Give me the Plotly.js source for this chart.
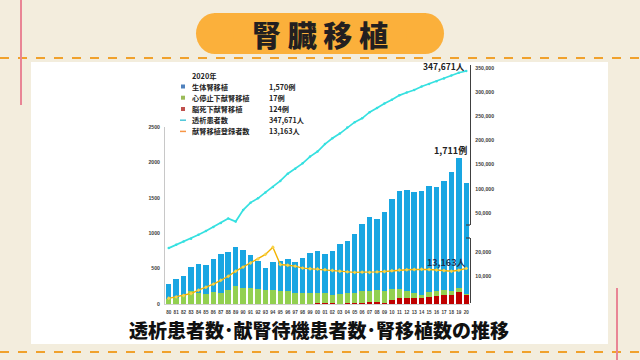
<!DOCTYPE html>
<html><head><meta charset="utf-8">
<script src="https://cdn.plot.ly/plotly-3.0.1.min.js"></script>
<style>html,body{margin:0;padding:0;background:#f3eddd;}#chart{width:640px;height:360px;}</style>
</head><body><div id="chart"></div>
<script>
// ---- data ----
const years = ['80','81','82','83','84','85','86','87','88','89','90','91','92','93','94','95','96','97','98','99',
               '00','01','02','03','04','05','06','07','08','09','10','11','12','13','14','15','16','17','18','19','20'];
// 生体腎移植 (living donor)
const living = [213,267,285,338,410,416,475,551,535,542,533,464,400,315,400,430,453,433,500,570,
                591,551,626,711,734,834,951,1042,998,1120,1276,1389,1420,1431,1471,1494,1471,1544,1683,1827,1570];
// 心停止下献腎移植 (cardiac death donor)
const cardiac = [65,90,110,185,150,135,165,160,195,258,230,228,207,198,193,180,178,160,150,146,
                 143,137,117,137,150,143,166,164,180,172,146,125,105,72,49,66,58,65,55,56,17];
// 脳死下献腎移植 (brain death donor)
const brain = [0,0,0,0,0,0,0,0,0,0,0,0,0,0,0,0,0,0,0,4,
               8,14,10,4,10,17,19,24,23,13,62,87,85,83,78,101,119,133,127,174,124];
// 透析患者数 (dialysis patients)
const dialysis = [36397,42223,47978,53017,59811,66310,73537,80553,88534,83000,103296,116303,123926,134298,143709,154413,167192,175988,185322,197213,
                  206134,219183,229538,237710,248166,257765,264473,275242,282622,290661,297126,304856,310007,314180,320448,324986,329609,334505,339841,344640,347671];
// 献腎移植登録者数 (waiting list registrants)
const waiting = [700,1300,1900,2700,4100,5300,6600,8200,9900,12000,13700,15400,17100,19000,22000,14800,14500,14100,13300,13000,
                 12900,12600,12300,12000,11700,11500,11600,11500,11700,11900,12200,12500,12600,12700,12800,12700,12500,12300,12000,12400,13163];
const leftTicks = [0,500,1000,1500,2000,2500];
const upperTicks = [50000,100000,150000,200000,250000,300000,350000];
const lowerTicks = [10000,20000];
const legendNames = ['生体腎移植','心停止下献腎移植','脳死下献腎移植','透析患者数','献腎移植登録者数'];
const legendValues = ['1,570例','17例','124例','347,671人','13,163人'];

// ---- layout helpers (pixel -> paper) ----
const L=165, R=470, T=65, B=304;
const px=v=>(v-L)/(R-L), py=v=>(B-v)/(B-T);
const fmt=n=>n.toLocaleString('en-US');
const JP='Noto Sans CJK JP';
const NUM='Liberation Sans, Arial';

const traces = [
  {type:'bar', x:years, y:brain, name:'脳死下献腎移植', marker:{color:'#c00000'}, hoverinfo:'skip'},
  {type:'bar', x:years, y:cardiac, name:'心停止下献腎移植', marker:{color:'#92d050'}, hoverinfo:'skip'},
  {type:'bar', x:years, y:living, name:'生体腎移植', marker:{color:'#19a6e2'}, hoverinfo:'skip'},
  {type:'scatter', mode:'lines+markers', x:years, y:dialysis, yaxis:'y3', name:'透析患者数',
   line:{color:'#36e0e0', width:1.7}, marker:{color:'#36e0e0', size:2.5}},
  {type:'scatter', mode:'lines+markers', x:years, y:waiting, yaxis:'y4', name:'献腎移植登録者数',
   line:{color:'#f3b300', width:1.4}, marker:{color:'#f7d24a', size:3, symbol:'diamond'}},
  // empty trace so that the upper right axis is drawn
  {type:'scatter', mode:'markers', x:[], y:[], yaxis:'y2', hoverinfo:'skip'}
];

const shapes = [
  // white panel
  {type:'rect', xref:'paper', yref:'paper', x0:px(31), x1:px(608), y0:py(344), y1:py(62), fillcolor:'#ffffff', line:{width:0}, layer:'below'},
  // dashed orange rules
  {type:'line', xref:'paper', yref:'paper', x0:px(0), x1:px(640), y0:py(58), y1:py(58), line:{color:'#f0a12c', width:2, dash:'dash'}, layer:'below'},
  {type:'line', xref:'paper', yref:'paper', x0:px(0), x1:px(640), y0:py(352), y1:py(352), line:{color:'#f0a12c', width:2, dash:'dash'}, layer:'below'},
  // pink verticals
  {type:'line', xref:'paper', yref:'paper', x0:px(21), x1:px(21), y0:py(0), y1:py(105), line:{color:'#e98595', width:2}, layer:'below'},
  {type:'line', xref:'paper', yref:'paper', x0:px(617), x1:px(617), y0:py(288), y1:py(360), line:{color:'#e98595', width:2}, layer:'below'},
  // title banner
  {type:'rect', xref:'paper', yref:'paper', x0:px(214), x1:px(426), y0:py(54), y1:py(13), fillcolor:'#fbb03b', line:{width:0}, layer:'below'},
  {type:'circle', xref:'paper', yref:'paper', x0:px(196), x1:px(234), y0:py(54), y1:py(13), fillcolor:'#fbb03b', line:{width:0}, layer:'below'},
  {type:'circle', xref:'paper', yref:'paper', x0:px(406), x1:px(444), y0:py(54), y1:py(13), fillcolor:'#fbb03b', line:{width:0}, layer:'below'},
  // axis break marks
  {type:'line', xref:'paper', yref:'paper', x0:px(466), x1:px(470), y0:py(225), y1:py(225), line:{color:'#404040', width:1.2}},
  {type:'line', xref:'paper', yref:'paper', x0:px(466), x1:px(470), y0:py(238), y1:py(238), line:{color:'#404040', width:1.2}}
];
// legend markers
const rowY = [86.5,97.7,109,120.2,131.4];
const mcol = ['#4f81bd','#9bbb59','#c0504d','#4bc6d8','#f79646'];
for(let i=0;i<5;i++){
  if(i<3) shapes.push({type:'rect', xref:'paper', yref:'paper', x0:px(181), x1:px(185), y0:py(rowY[i]+2), y1:py(rowY[i]-2), fillcolor:mcol[i], line:{width:0}});
  else shapes.push({type:'line', xref:'paper', yref:'paper', x0:px(180), x1:px(186), y0:py(rowY[i]), y1:py(rowY[i]), line:{color:mcol[i], width:1.5}});
}

const annotations = [
  {text:'腎 臓 移 植', xref:'paper', yref:'paper', x:px(320), y:py(34), xanchor:'center', yanchor:'middle', showarrow:false,
   font:{family:JP, size:29, color:'#231f20', weight:900}},
  {text:'透析患者数･献腎待機患者数･腎移植数の推移', xref:'paper', yref:'paper', x:px(319), y:py(329), xanchor:'center', yanchor:'middle', showarrow:false,
   font:{family:JP, size:19, color:'#111111', weight:900}},
  {text:'2020年', xref:'paper', yref:'paper', x:px(190), y:py(76), xanchor:'left', yanchor:'middle', showarrow:false,
   font:{family:JP, size:7.3, color:'#222', weight:'bold'}},
  {text:fmt(dialysis[40])+'人', x:40, y:dialysis[40], xref:'x', yref:'y3', xanchor:'right', yanchor:'middle', xshift:1, yshift:5, showarrow:false,
   font:{family:JP, size:8.5, color:'#222', weight:'bold'}},
  {text:fmt(living[40]+cardiac[40]+brain[40])+'例', x:40, y:2175, xref:'x', yref:'y', xanchor:'right', yanchor:'middle', xshift:3, showarrow:false,
   font:{family:JP, size:9, color:'#222', weight:'bold'}},
  {text:fmt(waiting[40])+'人', x:40, y:waiting[40], xref:'x', yref:'y4', xanchor:'right', yanchor:'middle', yshift:6, xshift:1, showarrow:false,
   font:{family:JP, size:9, color:'#1e3250', weight:'bold'}}
];
for(let i=0;i<5;i++){
  annotations.push({text:legendNames[i], xref:'paper', yref:'paper', x:px(190), y:py(rowY[i]), xanchor:'left', yanchor:'middle', showarrow:false,
    font:{family:JP, size:7.2, color:'#222', weight:'bold'}});
  annotations.push({text:legendValues[i], xref:'paper', yref:'paper', x:px(267), y:py(rowY[i]), xanchor:'left', yanchor:'middle', showarrow:false,
    font:{family:JP, size:7.2, color:'#222', weight:'bold'}});
}

const tickFont = {family:NUM, size:5.2, color:'#404040', weight:'bold'};
const xTickFont = {family:NUM, size:4.6, color:'#404040', weight:'bold'};
const layout = {
  width:640, height:360,
  margin:{l:L, r:640-R, t:T, b:360-B, pad:0},
  paper_bgcolor:'#f3eddd', plot_bgcolor:'rgba(0,0,0,0)',
  barmode:'stack', bargap:0.26, showlegend:false,
  font:{family:JP},
  xaxis:{type:'category', tickmode:'array', tickvals:years, ticktext:years, tickangle:0, tickfont:xTickFont,
         showline:true, linecolor:'#d0d0d0', linewidth:1, ticks:'', showgrid:false, zeroline:false, range:[-0.5,40.5], ticklabelstandoff:3},
  yaxis:{domain:[0,py(127)], range:[0,2500], tickvals:leftTicks, ticktext:leftTicks.map(String), tickfont:tickFont,
         showline:true, linecolor:'#c8c8c8', linewidth:1, ticks:'', showgrid:false, zeroline:false, ticklabelstandoff:3},
  yaxis2:{anchor:'x', side:'right', domain:[py(225),1], range:[25171,356207], tickvals:upperTicks, ticktext:upperTicks.map(fmt),
          tickfont:tickFont, showline:true, linecolor:'#404040', linewidth:1.3, ticks:'', showgrid:false, zeroline:false, ticklabelstandoff:3},
  yaxis3:{anchor:'x', domain:[0,1], range:[-61860,358215], visible:false},
  yaxis4:{anchor:'x', side:'right', domain:[py(303),py(238)], range:[-1250,25833], tickvals:lowerTicks, ticktext:lowerTicks.map(fmt),
          tickfont:tickFont, showline:true, linecolor:'#404040', linewidth:1.3, ticks:'', showgrid:false, zeroline:false, ticklabelstandoff:3},
  shapes:shapes, annotations:annotations
};
Plotly.newPlot('chart', traces, layout, {displayModeBar:false, staticPlot:true});
</script></body></html>
